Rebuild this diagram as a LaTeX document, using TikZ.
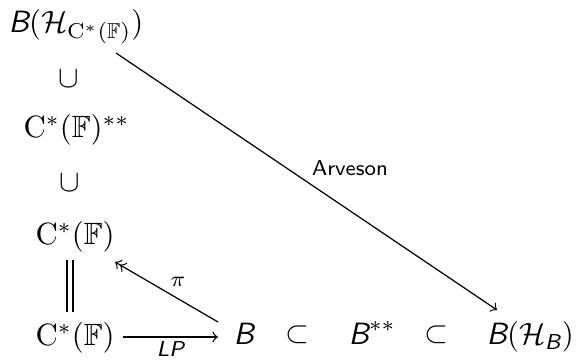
\documentclass[tikz,border=0pt]{standalone}
\usepackage{amsmath,amssymb}
\usepackage{fontspec}
\newcommand{\sB}{\text{\sffamily\itshape B}}
\tikzset{
  obj/.style={inner sep=0pt, anchor=base west},
  lab/.style={font=\sffamily\scriptsize, inner sep=1pt},
  arr/.style={->, line width=0.4pt}
}
\begin{document}
\begin{tikzpicture}[x=0.325pt, y=-0.325pt]
\useasboundingbox (0,0) rectangle (579,360);
\node[obj] (top) at (8,33) {$\sB(\mathcal{H}_{\mathrm{C}^*(\mathbb{F})})$};
\node[inner sep=0pt] (cupa) at (69,79) {$\cup$};
\node[obj] (css) at (23,138) {$\mathrm{C}^*(\mathbb{F})^{**}$};
\node[inner sep=0pt] (cupb) at (70,183) {$\cup$};
\node[obj] (cm) at (35,245) {$\mathrm{C}^*(\mathbb{F})$};
\node[obj] (cb) at (35,346) {$\mathrm{C}^*(\mathbb{F})$};
\node[obj] (b) at (233,345) {$\sB$};
\node[inner sep=0pt] (suba) at (297,335) {$\subset$};
\node[obj] (bss) at (348,345) {$\sB^{**}$};
\node[inner sep=0pt] (subb) at (436,335) {$\subset$};
\node[obj] (bh) at (486,345) {$\sB(\mathcal{H}_{\sB})$};
\coordinate (eqt) at (70,260);
\coordinate (eqb) at (70,312);
\draw[double, double distance=1.5pt] (eqt) -- (eqb);
\coordinate (lps) at (123,337);
\coordinate (lpe) at (218,337);
\draw[arr] (lps) -- node[lab, pos=0.5, yshift=-4pt] {\itshape LP} (lpe);
\coordinate (pis) at (218,322);
\coordinate (pie) at (115,262);
\draw[->>, line width=0.4pt] (pis) -- node[lab, pos=0.39, yshift=5.5pt] {$\pi$} (pie);
\coordinate (avs) at (116,53);
\coordinate (ave) at (497,310);
\draw[arr] (avs) -- node[lab, pos=0.614, yshift=14pt] {Arveson} (ave);
\end{tikzpicture}
\end{document}
